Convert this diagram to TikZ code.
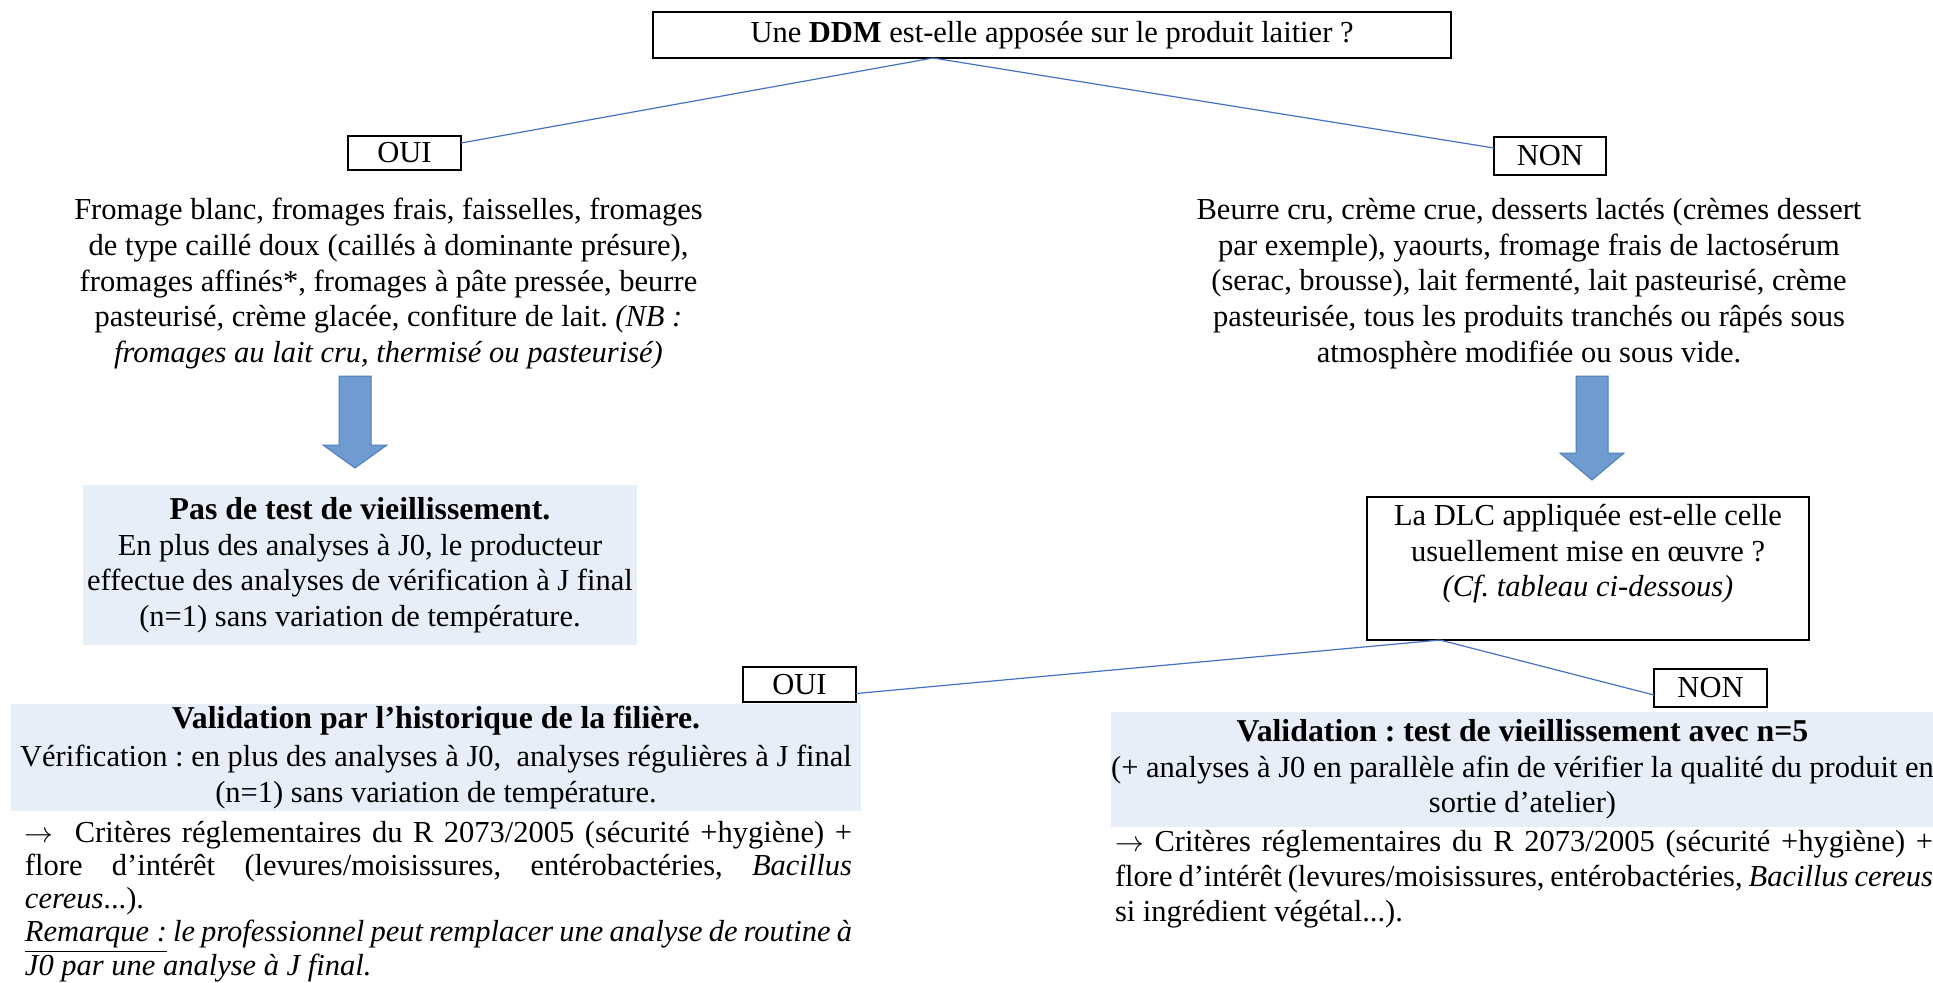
\documentclass[tikz,border=0pt]{standalone}
\usepackage{fontspec}
\setmainfont{Liberation Serif}
\frenchspacing
\definecolor{linkblue}{HTML}{4472C4}
\definecolor{arrowfill}{HTML}{6F9BD1}
\definecolor{arrowline}{HTML}{4A7EBB}
\definecolor{paleblue}{HTML}{E8EEF8}
\newcommand{\headline}[1]{{\fontsize{15.9pt}{17.6pt}\selectfont\textbf{#1}}}
\newcommand{\tightspaces}{\spaceskip=0.25em plus 0.3em minus 0.1em\relax}

\begin{document}
\begin{tikzpicture}[
    x=0.5pt, y=-0.5pt,
    every node/.style={
      inner sep=0pt, outer sep=0pt,
      font=\fontsize{15.25pt}{17.8pt}\selectfont,
    },
    question/.style={
      draw, line width=0.7pt, align=center,
      minimum width=#1,
    },
    answer/.style={
      draw, line width=0.7pt, minimum width=56.5pt,
    },
    result/.style={
      fill=paleblue, align=center,
    },
    link/.style={
      draw=linkblue, line width=0.6pt
    },
    bigarrow/.style={
      fill=arrowfill, draw=arrowline, line width=0.5pt
    }
    ]
  \fill[white] (0,0) rectangle (1933,982);
  \useasboundingbox (0,0) rectangle (1933,982);

  % first question
  \node[question=399pt, minimum height=23pt] (q0) at (1052,35)
    {Une \textbf{DDM} est-elle apposée sur le produit laitier ?};
  \coordinate (q0foot) at (933,58);
  \node[answer, minimum height=17pt] (a1) at (404.5,153) {OUI};
  \node[answer, minimum height=19pt, minimum width=56pt] (a2) at (1550,156) {NON};
  \draw[link] (q0foot) -- ([yshift=5pt]a1.east);
  \draw[link] (q0foot) -- ([yshift=4pt]a2.west);

  % products
  \node[align=center] (t1) at (388.5,283.5)
    {Fromage blanc, fromages frais, faisselles, fromages\\
     de type caillé doux (caillés à dominante présure),\\
     fromages affinés*, fromages à pâte pressée, beurre\\
     pasteurisé, crème glacée, confiture de lait. \textit{(NB :}\\
     \textit{fromages au lait cru, thermisé ou pasteurisé)}};
  \node[align=center] (t2) at (1529,283.5)
    {Beurre cru, crème crue, desserts lactés (crèmes dessert\\
     par exemple), yaourts, fromage frais de lactosérum\\
     (serac, brousse), lait fermenté, lait pasteurisé, crème\\
     pasteurisée, tous les produits tranchés ou râpés sous\\
     atmosphère modifiée ou sous vide.};

  \draw[bigarrow] (339,376) -- (371,376) -- (371,445) -- (387,445)
    -- (355,468) -- (323,445) -- (339,445) -- cycle;
  \draw[bigarrow] (1576,376) -- (1608,376) -- (1608,453) -- (1624,453)
    -- (1592,480) -- (1560,453) -- (1576,453) -- cycle;

  % left result
  \node[result, minimum width=277pt, minimum height=80pt] (r1) at (360,565)
    {\headline{Pas de test de vieillissement.}\\
     En plus des analyses à J0, le producteur\\
     effectue des analyses de vérification à J final\\
     (n=1) sans variation de température.};

  % second question
  \node[question=221pt, minimum height=71.5pt] (q1) at (1588,568.5)
    {La DLC appliquée est-elle celle\\
     usuellement mise en œuvre ?\\
     \textit{(Cf. tableau ci-dessous)}\\ \mbox{}};
  \coordinate (q1foot) at (1440,640);
  \node[answer, minimum height=17.5pt] (a3) at (799.5,684.5) {OUI};
  \node[answer, minimum height=19pt] (a4) at (1710.5,688) {NON};
  \draw[link] (q1foot) -- ([yshift=-4.5pt]a3.east);
  \draw[link] (q1foot) -- ([yshift=-3.5pt]a4.west);

  \node[result, minimum width=425pt, minimum height=53.5pt] (r2) at (436,757.5)
    {\headline{Validation par l’historique de la filière.}\\[1pt]
     Vérification : en plus des analyses à J0,\ \ analyses régulières à J final\\
     (n=1) sans variation de température.};
  \node[result, minimum width=410.5pt, minimum height=57.5pt] (r3) at (1522.5,769.5)
    {\headline{Validation : test de vieillissement avec n=5}\\
     (+ analyses à J0 en parallèle afin de vérifier la qualité du produit en\\
     sortie d’atelier)};

  % criteria
  \node[text width=413.5pt, align=justify, anchor=north west,
        font=\fontsize{15.25pt}{16.6pt}\selectfont] (p2) at (25,821)
    {$\rightarrow$\ \ Critères réglementaires du R 2073/2005 (sécurité +hygiène) +\linebreak
     flore d’intérêt (levures/moisissures, entérobactéries, \textit{Bacillus}\linebreak
     \textit{cereus}...).\\
     \underline{\textit{Remarque :}} \textit{le professionnel peut remplacer une analyse de routine à}\linebreak
     \textit{J0 par une analyse à J final.}};
  \node[text width=409pt, align=justify, anchor=north west,
        font=\fontsize{15.25pt}{17.6pt}\selectfont\tightspaces] (p3) at (1115,830)
    {$\rightarrow$ Critères réglementaires du R 2073/2005 (sécurité +hygiène) +\linebreak
     flore d’intérêt (levures/moisissures, entérobactéries, \textit{Bacillus cereus}\linebreak
     si ingrédient végétal...).};
\end{tikzpicture}
\end{document}
